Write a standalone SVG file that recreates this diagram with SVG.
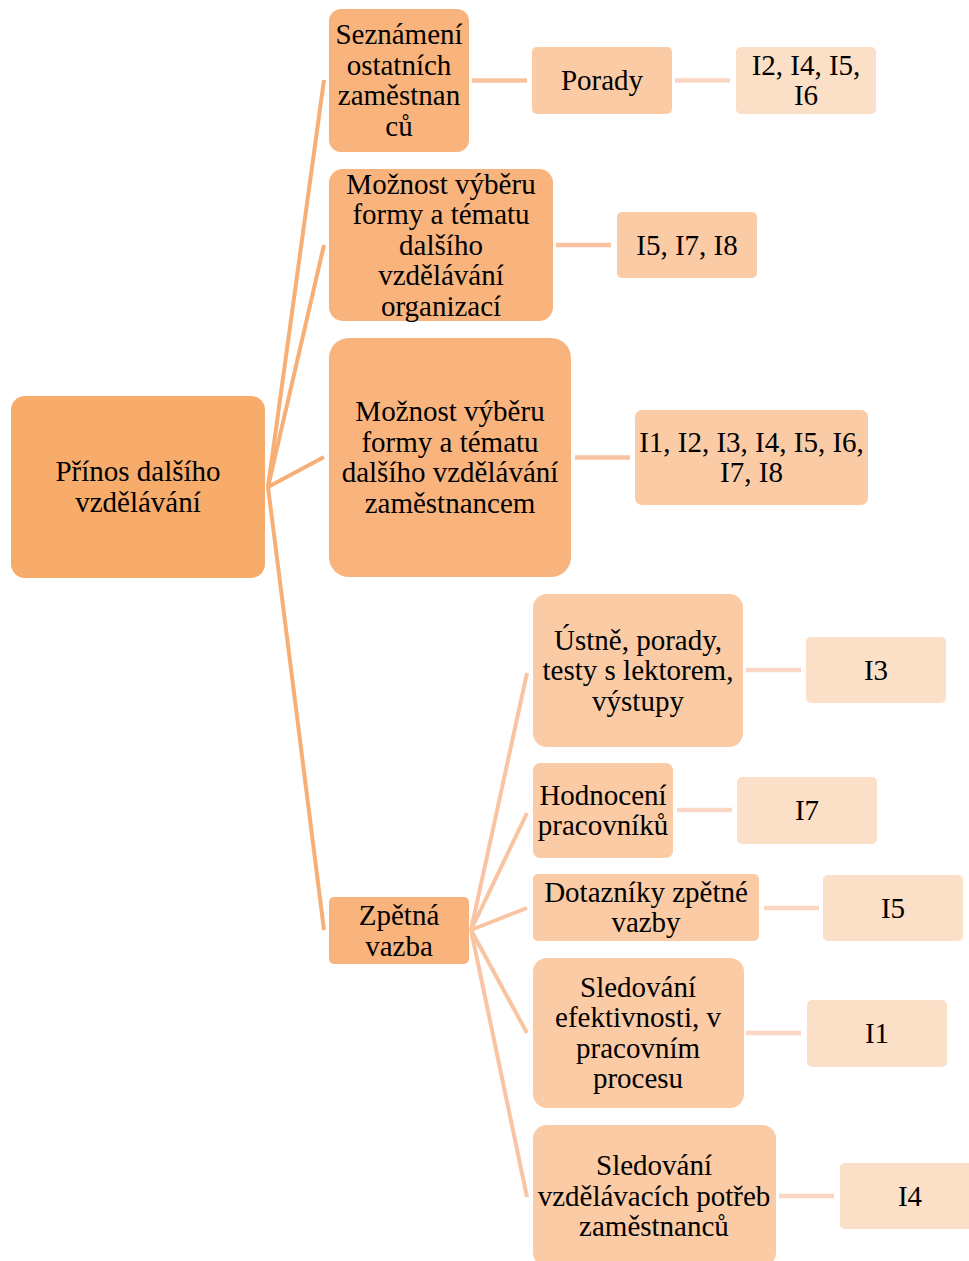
<svg xmlns="http://www.w3.org/2000/svg" width="969" height="1261" viewBox="0 0 969 1261">
<style>
text{font-family:"Liberation Serif","Times New Roman",serif;font-size:29px;fill:#000;text-anchor:middle}
.l0{fill:#F7AC6C}
.l1{fill:#F9B47D}
.l2{fill:#FACBA5}
.l3{fill:#FBDFC6}
.c0{stroke:#F7AF76;stroke-width:4;fill:none}
.c1{stroke:#F9C4A2;stroke-width:4;fill:none}
.c2{stroke:#F9C3A1;stroke-width:4.5;fill:none}
.c3{stroke:#FBD6C2;stroke-width:4.5;fill:none}
</style>
<rect width="969" height="1261" fill="#fff"/>
<g id="connectors">
<line class="c0" x1="268" y1="487" x2="324" y2="80"/>
<line class="c0" x1="268" y1="487" x2="324" y2="245"/>
<line class="c0" x1="268" y1="487" x2="324" y2="457"/>
<line class="c0" x1="268" y1="487" x2="324" y2="930"/>
<line class="c1" x1="471" y1="930" x2="527" y2="673"/>
<line class="c1" x1="471" y1="930" x2="527" y2="813"/>
<line class="c1" x1="471" y1="930" x2="527" y2="908"/>
<line class="c1" x1="471" y1="930" x2="527" y2="1033"/>
<line class="c1" x1="471" y1="930" x2="527" y2="1197"/>
<line class="c2" x1="472" y1="80.5" x2="527" y2="80.5"/>
<line class="c2" x1="556" y1="245" x2="611" y2="245"/>
<line class="c2" x1="575" y1="457.5" x2="630" y2="457.5"/>
<line class="c3" x1="675" y1="80.5" x2="730" y2="80.5"/>
<line class="c3" x1="746" y1="670" x2="801" y2="670"/>
<line class="c3" x1="677" y1="810" x2="732" y2="810"/>
<line class="c3" x1="764" y1="908" x2="819" y2="908"/>
<line class="c3" x1="746" y1="1033" x2="801" y2="1033"/>
<line class="c3" x1="779" y1="1196" x2="834" y2="1196"/>
</g>
<g id="root">
<rect class="l0" x="11" y="396" width="254" height="182" rx="14"/>
<text x="138"><tspan x="138" y="481.25">Přínos dalšího</tspan><tspan x="138" y="511.75">vzdělávání</tspan></text>
</g>
<g id="seznameni">
<rect class="l1" x="329" y="9" width="140" height="143" rx="12"/>
<text><tspan x="399" y="44.25">Seznámení</tspan><tspan x="399" y="74.75">ostatních</tspan><tspan x="399" y="105.25">zaměstnan</tspan><tspan x="399" y="135.75">ců</tspan></text>
</g>
<g id="moznost-org">
<rect class="l1" x="329" y="169" width="224" height="152" rx="14"/>
<text><tspan x="441" y="193.5">Možnost výběru</tspan><tspan x="441" y="224">formy a tématu</tspan><tspan x="441" y="254.5">dalšího</tspan><tspan x="441" y="285">vzdělávání</tspan><tspan x="441" y="315.5">organizací</tspan></text>
</g>
<g id="moznost-zam">
<rect class="l1" x="329" y="338" width="242" height="239" rx="20"/>
<text><tspan x="450" y="421.25">Možnost výběru</tspan><tspan x="450" y="451.75">formy a tématu</tspan><tspan x="450" y="482.25">dalšího vzdělávání</tspan><tspan x="450" y="512.75">zaměstnancem</tspan></text>
</g>
<g id="zpetna">
<rect class="l1" x="329" y="897" width="140" height="67" rx="5"/>
<text><tspan x="399" y="925.25">Zpětná</tspan><tspan x="399" y="955.75">vazba</tspan></text>
</g>
<g id="porady">
<rect class="l2" x="532" y="47" width="140" height="67" rx="5"/>
<text x="602" y="90">Porady</text>
</g>
<g id="porady-i">
<rect class="l3" x="736" y="47" width="140" height="67" rx="5"/>
<text><tspan x="806" y="74.75">I2, I4, I5,</tspan><tspan x="806" y="105.25">I6</tspan></text>
</g>
<g id="org-i">
<rect class="l2" x="617" y="212" width="140" height="66" rx="5"/>
<text x="687" y="254.5">I5, I7, I8</text>
</g>
<g id="zam-i">
<rect class="l2" x="635" y="410" width="233" height="95" rx="7"/>
<text><tspan x="751.5" y="451.75">I1, I2, I3, I4, I5, I6,</tspan><tspan x="751.5" y="482.25">I7, I8</tspan></text>
</g>
<g id="ustne">
<rect class="l2" x="533" y="594" width="210" height="153" rx="14"/>
<text><tspan x="638" y="649.5">Ústně, porady,</tspan><tspan x="638" y="680">testy s lektorem,</tspan><tspan x="638" y="710.5">výstupy</tspan></text>
</g>
<g id="ustne-i">
<rect class="l3" x="806" y="637" width="140" height="66" rx="5"/>
<text x="876" y="679.5">I3</text>
</g>
<g id="hodnoceni">
<rect class="l2" x="533" y="763" width="140" height="95" rx="7"/>
<text><tspan x="603" y="804.75">Hodnocení</tspan><tspan x="603" y="835.25">pracovníků</tspan></text>
</g>
<g id="hodnoceni-i">
<rect class="l3" x="737" y="777" width="140" height="67" rx="5"/>
<text x="807" y="820">I7</text>
</g>
<g id="dotazniky">
<rect class="l2" x="533" y="874" width="226" height="67" rx="5"/>
<text><tspan x="646" y="901.75">Dotazníky zpětné</tspan><tspan x="646" y="932.25">vazby</tspan></text>
</g>
<g id="dotazniky-i">
<rect class="l3" x="823" y="875" width="140" height="66" rx="5"/>
<text x="893" y="917.5">I5</text>
</g>
<g id="sledovani-ef">
<rect class="l2" x="533" y="958" width="211" height="150" rx="14"/>
<text><tspan x="638" y="996.75">Sledování</tspan><tspan x="638" y="1027.25">efektivnosti, v</tspan><tspan x="638" y="1057.75">pracovním</tspan><tspan x="638" y="1088.25">procesu</tspan></text>
</g>
<g id="sledovani-ef-i">
<rect class="l3" x="807" y="1000" width="140" height="67" rx="5"/>
<text x="877" y="1043">I1</text>
</g>
<g id="sledovani-vz">
<rect class="l2" x="533" y="1125" width="243" height="142" rx="14"/>
<text><tspan x="654" y="1175">Sledování</tspan><tspan x="654" y="1205.5">vzdělávacích potřeb</tspan><tspan x="654" y="1236">zaměstnanců</tspan></text>
</g>
<g id="sledovani-vz-i">
<rect class="l3" x="840" y="1163" width="140" height="66" rx="5"/>
<text x="910" y="1205.5">I4</text>
</g>
</svg>
